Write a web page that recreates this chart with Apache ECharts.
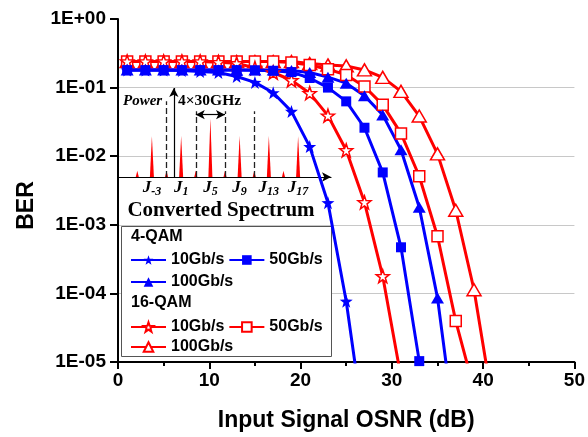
<!DOCTYPE html>
<html>
<head>
<meta charset="utf-8">
<script src="https://cdn.jsdelivr.net/npm/echarts@6/dist/echarts.min.js"></script>
<style>
html,body{margin:0;padding:0;background:#fff;}
#c{width:588px;height:437px;}
</style>
</head>
<body>
<div id="c"></div>
<script>
// ---- data ----
const osnr = [1,3,5,7,9,11,13,15,17,19,21,23,25,27,29,31,33,35,37,39,41];
const qam4_10G  = [0.18,0.18,0.18,0.178,0.172,0.166,0.145,0.119,0.084,0.045,0.0138,0.0021,7.7e-5,1e-6];
const qam4_50G  = [0.18,0.18,0.18,0.18,0.18,0.18,0.18,0.179,0.176,0.168,0.138,0.100,0.063,0.026,0.0058,4.7e-4,1.03e-5];
const qam4_100G = [0.18,0.18,0.18,0.18,0.18,0.18,0.18,0.18,0.18,0.178,0.166,0.142,0.116,0.076,0.040,0.0124,0.0018,8.6e-5,8e-7];
const qam16_10G  = [0.24,0.24,0.24,0.24,0.24,0.235,0.226,0.193,0.166,0.128,0.083,0.039,0.0122,0.00213,1.78e-4,6e-6];
const qam16_50G  = [0.24,0.24,0.24,0.24,0.24,0.24,0.24,0.24,0.24,0.232,0.214,0.185,0.153,0.104,0.056,0.0215,0.0051,6.8e-4,3.95e-5,4e-6];
const qam16_100G = [0.24,0.24,0.24,0.24,0.24,0.24,0.24,0.24,0.24,0.24,0.225,0.214,0.207,0.181,0.141,0.088,0.0385,0.0108,0.00163,1.13e-4,2.7e-6];

// inset spectrum
const specCats = [];
for (let j = -7; j <= 21; j++) specCats.push(String(j));
const spikeJ     = [-5,-3,-1,1,3,5,7,9,11,13,15,17];
const spikePower = [0.07,0.46,0.07,0.46,0.07,0.66,0.07,0.46,0.07,0.46,0.07,0.46];
const labelJ     = [-3,1,5,9,13,17];
const dashedJ    = [-1,3,7,11];
const dashedTop  = [0.85,0.74,0.74,0.74];

const BLUE = '#0000ff', RED = '#ff0000';
const STAR = 'path://M0,-10L2.35,-3.24L9.51,-3.09L3.8,1.24L5.88,8.09L0,4L-5.88,8.09L-3.8,1.24L-9.51,-3.09L-2.35,-3.24Z';
const SANS = 'Liberation Sans', SERIF = 'Liberation Serif';

function mk(name, vals, color, symbol, size, hollow) {
  return {
    name: name, type: 'line', xAxisIndex: 0, yAxisIndex: 0,
    data: vals.map((v, i) => [osnr[i], v]),
    symbol: symbol, symbolSize: size, showAllSymbol: true,
    lineStyle: {color: color, width: 3},
    itemStyle: hollow ? {color: '#fff', borderColor: color, borderWidth: 1.5} : {color: color},
    emphasis: {disabled: true}, clip: true, z: 3
  };
}

const series = [
  mk('16-QAM 100Gb/s', qam16_100G, RED, 'triangle', [14,12], true),
  mk('16-QAM 50Gb/s', qam16_50G, RED, 'rect', 11, true),
  mk('16-QAM 10Gb/s', qam16_10G, RED, STAR, 13, true),
  mk('4-QAM 100Gb/s', qam4_100G, BLUE, 'triangle', [13,11], false),
  mk('4-QAM 50Gb/s', qam4_50G, BLUE, 'rect', 10, false),
  mk('4-QAM 10Gb/s', qam4_10G, BLUE, STAR, 13, false),
  {
    name: 'spectrum', type: 'pictorialBar', xAxisIndex: 1, yAxisIndex: 1,
    data: specCats.map(c => {
      const k = spikeJ.indexOf(Number(c));
      if (k < 0) return '-';
      return {value: spikePower[k], symbolSize: [spikePower[k] > 0.3 ? 4 : 3, '100%']};
    }),
    symbol: 'triangle', symbolSize: [4, '100%'], itemStyle: {color: RED},
    silent: true, z: 2,
    markLine: {
      silent: true, animation: false, symbol: 'none',
      label: {show: false},
      lineStyle: {type: [6,3], color: '#222', width: 1.3},
      data: dashedJ.map((j, i) => [{coord: [String(j), 0]}, {coord: [String(j), dashedTop[i]]}])
    }
  },
  {
    name: 'arrows', type: 'line', xAxisIndex: 1, yAxisIndex: 1, data: [], silent: true,
    markLine: {
      silent: true, animation: false,
      label: {show: false},
      symbolSize: [7, 9],
      lineStyle: {type: 'solid', color: '#000', width: 1.2},
      data: [
        [{coord: ['0', 0], symbol: 'none'}, {coord: ['0', 1], symbol: 'arrow'}],
        [{coord: ['3', 0.7], symbol: 'arrow'}, {coord: ['7', 0.7], symbol: 'arrow'}]
      ]
    }
  }
];

function fmtY(v) {
  const e = Math.round(Math.log10(v));
  return '1E' + (e < 0 ? '-' : '+') + String(Math.abs(e)).padStart(2, '0');
}

const legendBase = {
  orient: 'horizontal', itemWidth: 35, itemHeight: 12, itemGap: 4,
  textStyle: {fontSize: 16, fontWeight: 'bold', color: '#000', fontFamily: SANS},
  formatter: n => n.split(' ')[1], selectedMode: false, padding: 0
};

const option = {
  animation: false,
  backgroundColor: '#fff',
  grid: [
    {left: 118, top: 19, right: 10, bottom: 72},
    {left: 119, top: 88, width: 212, height: 89}
  ],
  xAxis: [
    {
      gridIndex: 0, type: 'value', min: 0, max: 50, interval: 10,
      axisLine: {lineStyle: {color: '#000', width: 2}},
      axisTick: {length: 7, lineStyle: {color: '#000', width: 2}},
      minorTick: {show: true, splitNumber: 2, length: 4, lineStyle: {color: '#000', width: 2}},
      axisLabel: {fontSize: 19, fontWeight: 'bold', color: '#000', fontFamily: SANS, margin: 9},
      splitLine: {show: false},
      name: 'Input Signal OSNR (dB)', nameLocation: 'middle', nameGap: 47,
      nameTextStyle: {fontSize: 23, fontWeight: 'bold', color: '#000', fontFamily: SANS}
    },
    {
      gridIndex: 1, type: 'category', data: specCats, boundaryGap: true,
      axisLine: {show: true, symbol: ['none', 'arrow'], symbolSize: [7, 9], lineStyle: {color: '#000', width: 1.2}},
      axisTick: {show: false},
      splitLine: {show: false},
      axisLabel: {
        interval: 0, margin: 2, color: '#000',
        formatter: v => labelJ.indexOf(Number(v)) >= 0 ? '{j|J}{s|' + v + '}' : '',
        rich: {
          j: {fontFamily: SERIF, fontStyle: 'italic', fontWeight: 'bold', fontSize: 17, color: '#000', verticalAlign: 'top'},
          s: {fontFamily: SERIF, fontStyle: 'italic', fontWeight: 'bold', fontSize: 12, color: '#000', verticalAlign: 'top', padding: [7, 0, 0, 0]}
        }
      }
    }
  ],
  yAxis: [
    {
      gridIndex: 0, type: 'log', logBase: 10, min: 1e-5, max: 1,
      axisLine: {show: true, lineStyle: {color: '#000', width: 2}},
      axisTick: {show: true, length: 8, lineStyle: {color: '#000', width: 2}},
      axisLabel: {fontSize: 19, fontWeight: 'bold', color: '#000', fontFamily: SANS, margin: 12, formatter: fmtY},
      splitLine: {show: true, showMinLine: false, showMaxLine: false, lineStyle: {color: '#c8c8c8', width: 1}},
      name: 'BER', nameLocation: 'middle', nameGap: 80,
      nameTextStyle: {fontSize: 23, fontWeight: 'bold', color: '#000', fontFamily: SANS, padding: [0, 30, 0, 0]}
    },
    {gridIndex: 1, type: 'value', min: 0, max: 1, show: false}
  ],
  legend: [
    Object.assign({}, legendBase, {left: 130, top: 252, data: ['4-QAM 10Gb/s', '4-QAM 50Gb/s']}),
    Object.assign({}, legendBase, {left: 130, top: 274, data: ['4-QAM 100Gb/s']}),
    Object.assign({}, legendBase, {left: 130, top: 319, data: ['16-QAM 10Gb/s', '16-QAM 50Gb/s']}),
    Object.assign({}, legendBase, {left: 130, top: 339, data: ['16-QAM 100Gb/s']})
  ],
  graphic: [
    {type: 'rect', z: 1, shape: {x: 121.5, y: 226.5, width: 210, height: 130},
     style: {fill: '#fff', stroke: '#555', lineWidth: 1}},
    {type: 'text', z: 5, x: 131, y: 237, style: {text: '4-QAM', font: 'bold 16px "Liberation Sans"', fill: '#000', verticalAlign: 'middle'}},
    {type: 'text', z: 5, x: 131, y: 303, style: {text: '16-QAM', font: 'bold 16px "Liberation Sans"', fill: '#000', verticalAlign: 'middle'}},
    {type: 'text', z: 5, x: 123, y: 101, style: {text: 'Power', font: 'italic bold 15px "Liberation Serif"', fill: '#000', verticalAlign: 'middle'}},
    {type: 'text', z: 5, x: 178, y: 101, style: {text: '4\u00d730GHz', font: 'bold 15.5px "Liberation Serif"', fill: '#000', verticalAlign: 'middle'}},
    {type: 'text', z: 5, x: 221, y: 211, style: {text: 'Converted Spectrum', font: 'bold 21px "Liberation Serif"', fill: '#000', align: 'center', verticalAlign: 'middle'}}
  ],
  series: series
};

const chart = echarts.init(document.getElementById('c'), null, {renderer: 'canvas'});
chart.setOption(option);
</script>
</body>
</html>
